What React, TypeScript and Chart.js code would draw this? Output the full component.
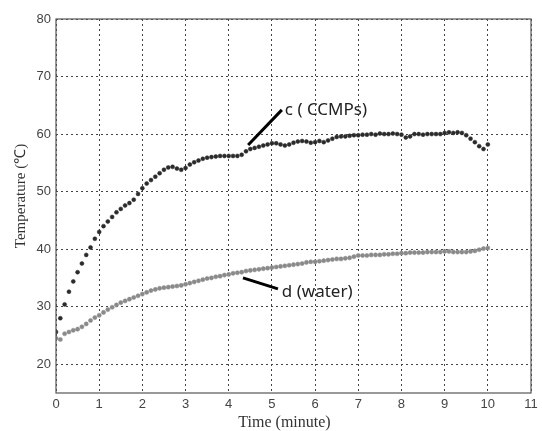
import React, { useEffect, useRef } from "react";
import { Chart, registerables } from "chart.js";

Chart.register(...registerables);

const times = [
  0, 0.1, 0.2, 0.3, 0.4, 0.5, 0.6, 0.7, 0.8, 0.9,
  1, 1.1, 1.2, 1.3, 1.4, 1.5, 1.6, 1.7, 1.8, 1.9,
  2, 2.1, 2.2, 2.3, 2.4, 2.5, 2.6, 2.7, 2.8, 2.9,
  3, 3.1, 3.2, 3.3, 3.4, 3.5, 3.6, 3.7, 3.8, 3.9,
  4, 4.1, 4.2, 4.3, 4.4, 4.5, 4.6, 4.7, 4.8, 4.9,
  5, 5.1, 5.2, 5.3, 5.4, 5.5, 5.6, 5.7, 5.8, 5.9,
  6, 6.1, 6.2, 6.3, 6.4, 6.5, 6.6, 6.7, 6.8, 6.9,
  7, 7.1, 7.2, 7.3, 7.4, 7.5, 7.6, 7.7, 7.8, 7.9,
  8, 8.1, 8.2, 8.3, 8.4, 8.5, 8.6, 8.7, 8.8, 8.9,
  9, 9.1, 9.2, 9.3, 9.4, 9.5, 9.6, 9.7, 9.8, 9.9,
  10,
];

const ccmps = [
  25.6, 28.0, 30.4, 32.6, 34.4, 36.0, 37.5, 39.0, 40.3, 41.8,
  43.0, 44.0, 44.8, 45.6, 46.4, 47.0, 47.6, 48.0, 48.6, 49.6,
  50.6, 51.4, 52.0, 52.6, 53.2, 53.8, 54.2, 54.3, 54.0, 53.8,
  54.1, 54.7, 55.1, 55.4, 55.7, 55.9, 56.0, 56.1, 56.2, 56.2,
  56.2, 56.2, 56.2, 56.4, 57.0, 57.4, 57.6, 57.8, 58.0, 58.2,
  58.4, 58.4, 58.2, 58.0, 58.2, 58.5, 58.7, 58.8, 58.7, 58.5,
  58.6, 58.8, 58.6, 58.9, 59.2, 59.5, 59.6, 59.6, 59.7, 59.8,
  59.8, 59.9, 59.9, 60.0, 59.9, 60.1, 60.0, 60.0, 60.1, 60.0,
  59.9, 59.4, 59.6, 60.0, 60.0, 59.9, 60.0, 60.0, 60.0, 60.0,
  60.2, 60.3, 60.2, 60.3, 60.2, 59.8, 59.2, 58.6, 57.9, 57.4,
  58.2,
];

const water = [
  24.5, 24.3, 25.3, 25.6, 25.9, 26.1, 26.5, 27.0, 27.6, 28.1,
  28.5, 29.0, 29.5, 29.9, 30.3, 30.7, 31.0, 31.3, 31.6, 31.9,
  32.2, 32.5, 32.8, 33.0, 33.2, 33.3, 33.4, 33.5, 33.6, 33.7,
  33.9, 34.1, 34.3, 34.5, 34.7, 34.9, 35.0, 35.2, 35.3, 35.5,
  35.6, 35.8, 35.9, 36.0, 36.2, 36.3, 36.4, 36.5, 36.6, 36.7,
  36.8, 36.9, 37.0, 37.1, 37.2, 37.3, 37.4, 37.5, 37.7, 37.8,
  37.8, 37.9, 38.0, 38.1, 38.2, 38.3, 38.3, 38.4, 38.5, 38.7,
  38.9, 38.9, 38.9, 39.0, 39.0, 39.0, 39.1, 39.1, 39.2, 39.2,
  39.3, 39.3, 39.4, 39.4, 39.4, 39.4, 39.5, 39.5, 39.5, 39.5,
  39.6, 39.6, 39.5, 39.5, 39.5, 39.5, 39.6, 39.7, 39.9, 40.1,
  40.2,
];

const xTicks = [0, 1, 2, 3, 4, 5, 6, 7, 8, 9, 10, 11];
const yTicks = [20, 30, 40, 50, 60, 70, 80];

const xTitle = "Time (minute)";
const yTitle = "Temperature (℃)";

// annotation anchors in data units
const labelC = { text: "c ( CCMPs)", line: [4.45, 58.1, 5.23, 64.2], at: [5.3, 63.3] };
const labelD = { text: "d (water)", line: [4.33, 35.0, 5.14, 33.1], at: [5.23, 31.7] };

export default function App() {
  const ref = useRef<HTMLCanvasElement | null>(null);

  useEffect(() => {
    if (!ref.current) return;
    const boxPlugin = {
      id: "boxAndLabels",
      afterDatasetsDraw(chart: any) {
        const { ctx, chartArea, scales } = chart;
        const xs = scales.x;
        const ys = scales.y;
        ctx.save();
        ctx.strokeStyle = "#555";
        ctx.lineWidth = 1.2;
        ctx.strokeRect(chartArea.left, chartArea.top, chartArea.right - chartArea.left, chartArea.bottom - chartArea.top);
        for (const lab of [labelC, labelD]) {
          ctx.beginPath();
          ctx.strokeStyle = "#000";
          ctx.lineWidth = 3;
          ctx.moveTo(xs.getPixelForValue(lab.line[0]), ys.getPixelForValue(lab.line[1]));
          ctx.lineTo(xs.getPixelForValue(lab.line[2]), ys.getPixelForValue(lab.line[3]));
          ctx.stroke();
          ctx.fillStyle = "#222";
          ctx.font = "17px 'Noto Sans', 'DejaVu Sans', sans-serif";
          ctx.textAlign = "left";
          ctx.textBaseline = "alphabetic";
          ctx.fillText(lab.text, xs.getPixelForValue(lab.at[0]), ys.getPixelForValue(lab.at[1]));
        }
        // axis titles
        ctx.fillStyle = "#333";
        ctx.font = "16px 'Liberation Serif', 'Times New Roman', serif";
        ctx.textAlign = "center";
        ctx.textBaseline = "middle";
        const cx = (chartArea.left + chartArea.right) / 2 - 9;
        ctx.fillText(xTitle, cx, chartArea.bottom + 30);
        ctx.save();
        ctx.translate(chartArea.left - 35, (chartArea.top + chartArea.bottom) / 2 - 10);
        ctx.rotate(-Math.PI / 2);
        ctx.font = "15px 'Liberation Serif', 'Times New Roman', serif";
        ctx.fillText(yTitle, 0, 0);
        ctx.restore();
        ctx.restore();
      },
    };

    const chart = new Chart(ref.current, {
      type: "scatter",
      data: {
        datasets: [
          {
            label: "c (CCMPs)",
            data: times.map((t, i) => ({ x: t, y: ccmps[i] })),
            pointRadius: 2,
            pointBackgroundColor: "#2b2b2b",
            pointBorderColor: "#2b2b2b",
            pointBorderWidth: 0.5,
            showLine: false,
          },
          {
            label: "d (water)",
            data: times.map((t, i) => ({ x: t, y: water[i] })),
            pointRadius: 2.1,
            pointBackgroundColor: "#8a8a8a",
            pointBorderColor: "#8a8a8a",
            pointBorderWidth: 0.5,
            showLine: false,
          },
        ],
      },
      options: {
        animation: false,
        responsive: true,
        maintainAspectRatio: false,
        layout: { padding: { top: 19, right: 11, left: 0, bottom: 0 } },
        plugins: { legend: { display: false }, tooltip: { enabled: false } },
        scales: {
          x: {
            type: "linear",
            min: 0,
            max: 11,
            afterBuildTicks: (s: any) => {
              s.ticks = xTicks.map((v) => ({ value: v }));
            },
            afterFit: (s: any) => {
              s.height = 38;
            },
            grid: { color: "#444", lineWidth: 1, drawTicks: false },
            border: { display: false, dash: [2, 3] },
            ticks: {
              color: "#444",
              font: { family: "'Liberation Sans', Arial, sans-serif", size: 13 },
              padding: 4,
              maxRotation: 0,
              autoSkip: false,
            },
            title: { display: false },
          },
          y: {
            type: "linear",
            min: 15,
            max: 80,
            afterBuildTicks: (s: any) => {
              s.ticks = yTicks.map((v) => ({ value: v }));
            },
            afterFit: (s: any) => {
              s.width = 56;
            },
            grid: { color: "#444", lineWidth: 1, drawTicks: false },
            border: { display: false, dash: [2, 3] },
            ticks: {
              color: "#444",
              font: { family: "'Liberation Sans', Arial, sans-serif", size: 13 },
              padding: 5,
              autoSkip: false,
            },
            title: { display: false },
          },
        },
      },
      plugins: [boxPlugin],
    } as any);

    return () => chart.destroy();
  }, []);

  return (
    <div style={{ position: "fixed", left: 0, top: 0, width: 542, height: 431, background: "#fff" }}>
      <canvas ref={ref} />
    </div>
  );
}
